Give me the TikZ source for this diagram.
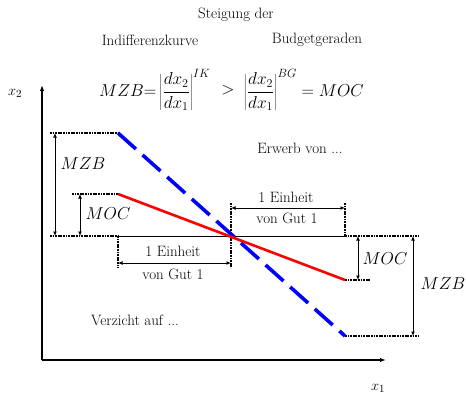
\documentclass[tikz,border=0pt]{standalone}
\usepackage{tikz}
\usetikzlibrary{positioning,arrows.meta,calc}

\tikzset{
  dotline/.style={line width=1.7pt,dash pattern=on 1.7pt off 0.9pt},
  dimarrow/.style={{Latex[length=4.5pt,width=4pt]}-{Latex[length=4.5pt,width=4pt]},line width=0.9pt},
  axis/.style={line width=1.2pt,-{Latex[length=6pt,width=4.5pt]}},
  txt/.style={font=\fontsize{15}{18}\selectfont,inner sep=0pt},
  mth/.style={font=\fontsize{17}{20}\selectfont,inner sep=0pt}
}

\begin{document}
\begin{tikzpicture}[x=1pt,y=-1pt]
  \useasboundingbox (0,0) rectangle (466,396);
  % corner points of the two lines
  \coordinate (O) at (42,360);
  \coordinate (ytop) at (42,85);
  \coordinate (xend) at (386,360);
  \coordinate (bT) at (118,133);
  \coordinate (bB) at (345,336);
  \coordinate (rT) at (118,194);
  \coordinate (rB) at (345,280);
  \coordinate (hL) at (118,236);
  \coordinate (hC) at (231,236);
  \coordinate (hR) at (345,236);
  % helper rails
  \coordinate (kL) at (50,0);   \coordinate (kLr) at (72,0);
  \coordinate (kR) at (418,0);  \coordinate (kRr) at (370,0);
  \coordinate (kMZB) at (55,0); \coordinate (kMOC) at (80,0);
  \coordinate (kMOCr) at (358,0); \coordinate (kMZBr) at (413,0);
  \coordinate (kTop) at (0,203); \coordinate (kBot) at (0,268);
  \coordinate (kUp) at (0,208);  \coordinate (kLow) at (0,263);

  % axes
  \draw[axis] (O) -- (ytop);
  \draw[axis] (O) -- (xend);
  \node[font=\fontsize{15}{18}\selectfont] (lx2) at (15,93) {$x_2$};
  \node[font=\fontsize{15}{18}\selectfont] (lx1) at (378,388) {$x_1$};

  % dotted guides
  \foreach \a/\b in {bT -| kL/bT, rT -| kLr/rT, hL -| kL/hL,
                     hR/hR -| kR, rB/rB -| kRr, bB/bB -| kR,
                     hL/hL |- kBot, hC |- kTop/hC |- kBot, hR |- kTop/hR}
    \draw[dotline] (\a) -- (\b);

  \draw[line width=0.8pt] (hL) -- (hR);

  % dimension arrows
  \draw[dimarrow] (bT -| kMZB) -- (hL -| kMZB);
  \draw[dimarrow] (rT -| kMOC) -- (hL -| kMOC);
  \draw[dimarrow] (hL |- kLow) -- (hC |- kLow);
  \draw[dimarrow] (hC |- kUp) -- (hR |- kUp);
  \draw[dimarrow] (hR -| kMOCr) -- (rB -| kMOCr);
  \draw[dimarrow] (hR -| kMZBr) -- (bB -| kMZBr);

  % indifference curve and budget line
  \draw[blue,line width=3.6pt,dash pattern=on 24pt off 9pt] (bT) -- (bB);
  \draw[red,line width=2.6pt] (rT) -- (rB);

  % labels
  \node[mth] (mzbL) at (83,164) {$MZB$};
  \node[mth] (mocL) at (108,214) {$MOC$};
  \node[mth] (mocR) at (385,259) {$MOC$};
  \node[mth] (mzbR) at (443,284) {$MZB$};
  \node[txt] (einA) at (173,251) {1 Einheit};
  \node[txt] (gutA) at (173,274) {von Gut 1};
  \node[txt] (einB) at (286,197) {1 Einheit};
  \node[txt] (gutB) at (287,218) {von Gut 1};
  \node[txt] (erwerb) at (300,148) {Erwerb von ...};
  \node[txt] (verzicht) at (135,320) {Verzicht auf ...};

  % heading and formula
  \node[txt] (steig) at (236,15) {Steigung der};
  \node[txt] (ik) at (150,40) {Indifferenzkurve};
  \node[txt] (bg) at (317,40) {Budgetgeraden};
  \node[mth,anchor=west] (eqL) at (99,90)
    {$\displaystyle MZB{=}\left|\frac{dx_2}{dx_1}\right|^{IK}$};
  \node[mth] (gt) at (228,90) {$>$};
  \node[mth,anchor=east] (eqR) at (364,90)
    {$\displaystyle \left|\frac{dx_2}{dx_1}\right|^{BG}=MOC$};
\end{tikzpicture}
\end{document}
